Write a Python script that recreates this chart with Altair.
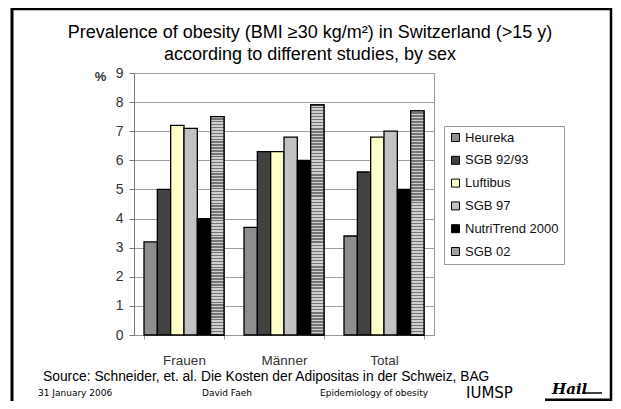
import altair as alt
import pandas as pd

groups = ["Frauen", "Männer", "Total"]
studies = ["Heureka", "SGB 92/93", "Luftibus", "SGB 97", "NutriTrend 2000", "SGB 02"]
frauen = [3.2, 5.0, 7.2, 7.1, 4.0, 7.5]
maenner = [3.7, 6.3, 6.3, 6.8, 6.0, 7.9]
total = [3.4, 5.6, 6.8, 7.0, 5.0, 7.7]
colors = ["#8e8e8e", "#424242", "#ffffcc", "#c2c2c2", "#000000", "#a0a0a0"]

rows = []
for g, vals in zip(groups, [frauen, maenner, total]):
    for s, v in zip(studies, vals):
        rows.append({"group": g, "study": s, "value": v})
df = pd.DataFrame(rows)

FONT = "Liberation Sans"

# horizontal stripe gradient for SGB 02
N = 75
stops = []
for i in range(N):
    stops += [
        {"offset": i / N, "color": "#d0d0d0"},
        {"offset": (i + 0.5) / N, "color": "#d0d0d0"},
        {"offset": (i + 0.5) / N, "color": "#747474"},
        {"offset": (i + 1) / N, "color": "#747474"},
    ]
stripe = {"gradient": "linear", "x1": 0, "y1": 0, "x2": 0, "y2": 1, "stops": stops}

x_enc = alt.X("group:N", sort=groups,
              scale=alt.Scale(paddingInner=0.2, paddingOuter=0.1),
              axis=alt.Axis(title=None, labelAngle=0, labelFontSize=13.5, labelFont=FONT,
                            labelColor="#333333", labelPadding=14, domainColor="#999999",
                            tickBand="extent", tickSize=4, tickColor="#999999", grid=False))
xo_enc = alt.XOffset("study:N", sort=studies, scale=alt.Scale(domain=studies, paddingInner=0, paddingOuter=0))
y_enc = alt.Y("value:Q", scale=alt.Scale(domain=[0, 9]),
              axis=alt.Axis(values=list(range(10)), title="%", titleAngle=0, titleX=-34, titleY=3,
                            titleFontSize=13, titleFont=FONT, titleColor="#333333",
                            titleBaseline="middle", titleFontWeight="bold",
                            labelFontSize=14, labelFont=FONT, labelColor="#333333",
                            labelPadding=6, tickSize=5, tickColor="#777777",
                            domainColor="#777777", gridColor="#9e9e9e", gridWidth=1))

bars = alt.Chart(df).mark_bar(stroke="black", strokeWidth=1.3).encode(
    x=x_enc, xOffset=xo_enc, y=y_enc,
    color=alt.Color("study:N", sort=studies,
                    scale=alt.Scale(domain=studies, range=colors),
                    legend=alt.Legend(title=None, orient="none", legendX=310, legendY=53,
                                      strokeColor="#999999", padding=5, symbolType="square",
                                      symbolSize=64, symbolStrokeColor="black", symbolStrokeWidth=1,
                                      labelFontSize=13, labelFont=FONT, labelColor="#111111",
                                      rowPadding=8.8, labelOffset=3)),
)

stripes = alt.Chart(df).transform_filter(alt.datum.study == "SGB 02").mark_bar(
    stroke="black", strokeWidth=1.3).encode(
    x=x_enc, xOffset=xo_enc, y=y_enc, fill=alt.value(stripe))

def txt(s, x, y, size, font=FONT, align="left", color="black", **kw):
    return alt.Chart(pd.DataFrame({"t": [s]})).mark_text(
        align=align, baseline="middle", fontSize=size, font=font, color=color, **kw).encode(
        x=alt.value(x), y=alt.value(y), text="t:N")

one = pd.DataFrame({"a": [0]})
def rule(x, x2, y, y2, w=2.5, color="black"):
    return alt.Chart(one).mark_rule(color=color, strokeWidth=w).encode(
        x=alt.value(x), x2=alt.value(x2), y=alt.value(y), y2=alt.value(y2))

def box(x, x2, y, y2, color="black"):
    return alt.Chart(one).mark_rect(color=color, strokeWidth=0).encode(
        x=alt.value(x), x2=alt.value(x2), y=alt.value(y), y2=alt.value(y2))

layers = [
    box(-123.5, -120.5, -65, 330),
    rule(477, 477, -65, 330),
    rule(-123, 477, -64, -64),
    bars, stripes,
    txt("Prevalence of obesity (BMI \u226530 kg/m\u00b2) in Switzerland (>15 y)", 176, -40, 18, align="center"),
    txt("according to different studies, by sex", 176, -18, 18, align="center"),
    txt("Source: Schneider, et. al. Die Kosten der Adipositas in der Schweiz, BAG", -91, 304, 13.8),
    txt("31 January 2006", -96, 320, 9, font="DejaVu Sans"),
    txt("David Faeh", 68, 320, 9, font="DejaVu Sans"),
    txt("Epidemiology of obesity", 186, 320, 9, font="DejaVu Sans"),
    txt("IUMSP", 332, 320, 15, font="DejaVu Sans"),
    txt("Hail", 418, 316, 15, font="DejaVu Serif", fontStyle="italic", fontWeight="bold"),
    rule(448, 468, 320, 320, w=1.5),
    rule(411, 477, 327, 327, w=3),
]

chart = alt.layer(*layers).properties(
    width=300, height=262,
    padding={"left": 126, "top": 65, "right": 179, "bottom": 66},
    autosize=alt.AutoSizeParams(type="none"),
    background="white",
).configure_view(stroke="#999999", strokeWidth=1)

chart.save("out.html", embed_options={"renderer": "svg", "actions": False})
